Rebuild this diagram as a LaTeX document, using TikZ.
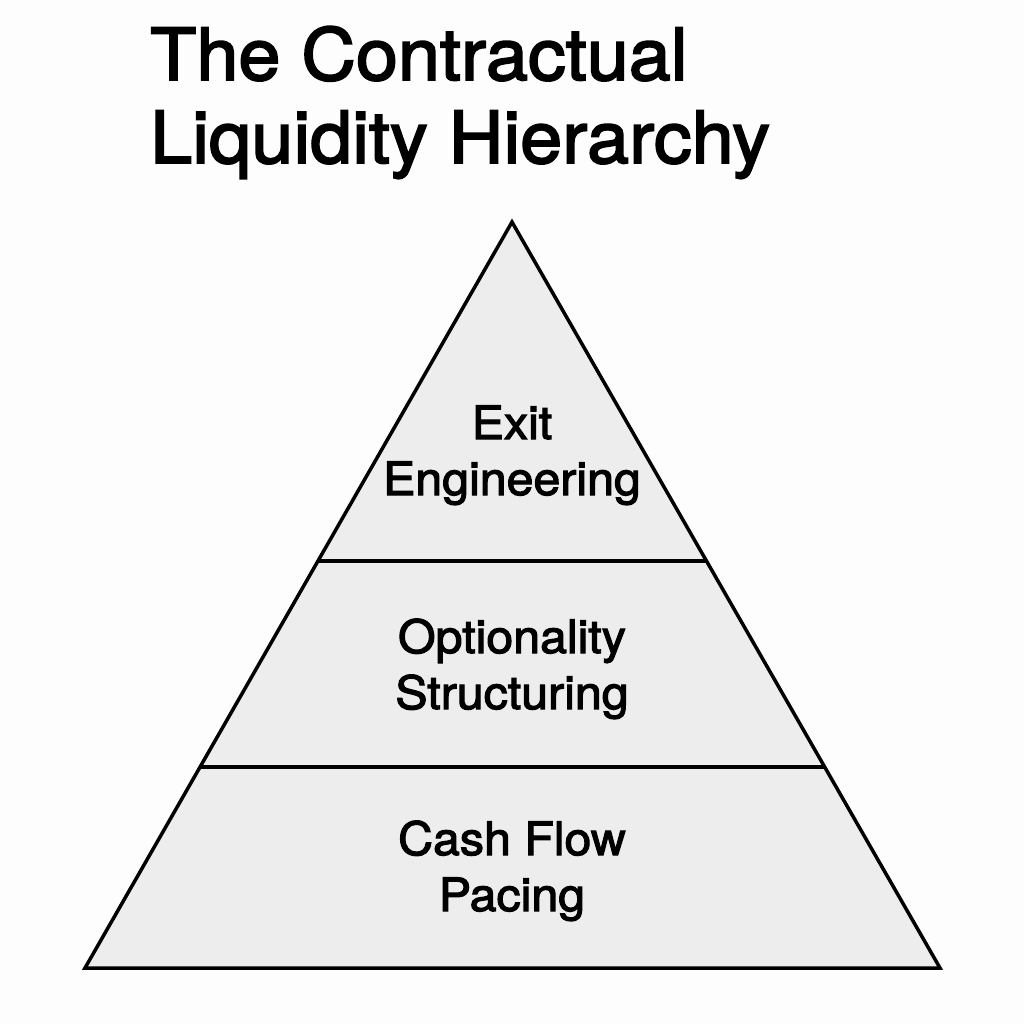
\documentclass[tikz,border=0pt]{standalone}
\usepackage{fontspec}
\setmainfont{TeX Gyre Heros}[FakeStretch=1.05,FakeBold=2.5]
\definecolor{tierfill}{HTML}{EDEDED}
\definecolor{bgcol}{HTML}{FDFDFD}
\begin{document}
\begin{tikzpicture}[x=1pt,y=-1pt,
  tier/.style={fill=tierfill,draw=black,line width=3.5pt,line join=miter},
  lbl/.style={font=\fontsize{46}{56}\selectfont,align=center,anchor=base,inner sep=0pt},
  ttl/.style={font=\fontsize{72}{83}\selectfont,align=left,anchor=base west,inner sep=0pt}]
\fill[bgcol] (0,0) rectangle (1024,1024);
\useasboundingbox (0,0) rectangle (1024,1024);
\coordinate (apex) at (512,222);
\coordinate (bl) at (85,968);
\coordinate (br) at (940,968);
\coordinate (l1) at (318,561);
\coordinate (r1) at (706,561);
\coordinate (l2) at (200,767);
\coordinate (r2) at (825,767);
\draw[tier] (apex) -- (bl) -- (br) -- cycle;
\draw[black,line width=3.5pt] (l1) -- (r1);
\draw[black,line width=3.5pt] (l2) -- (r2);
\node[ttl] (title) at (150,163) {The Contractual\\Liquidity Hierarchy};
\node[lbl] (exit) at (512,495) {Exit\\Engineering};
\node[lbl] (opt) at (512,709) {Optionality\\Structuring};
\node[lbl] (cash) at (512,911) {Cash Flow\\Pacing};
\end{tikzpicture}
\end{document}
